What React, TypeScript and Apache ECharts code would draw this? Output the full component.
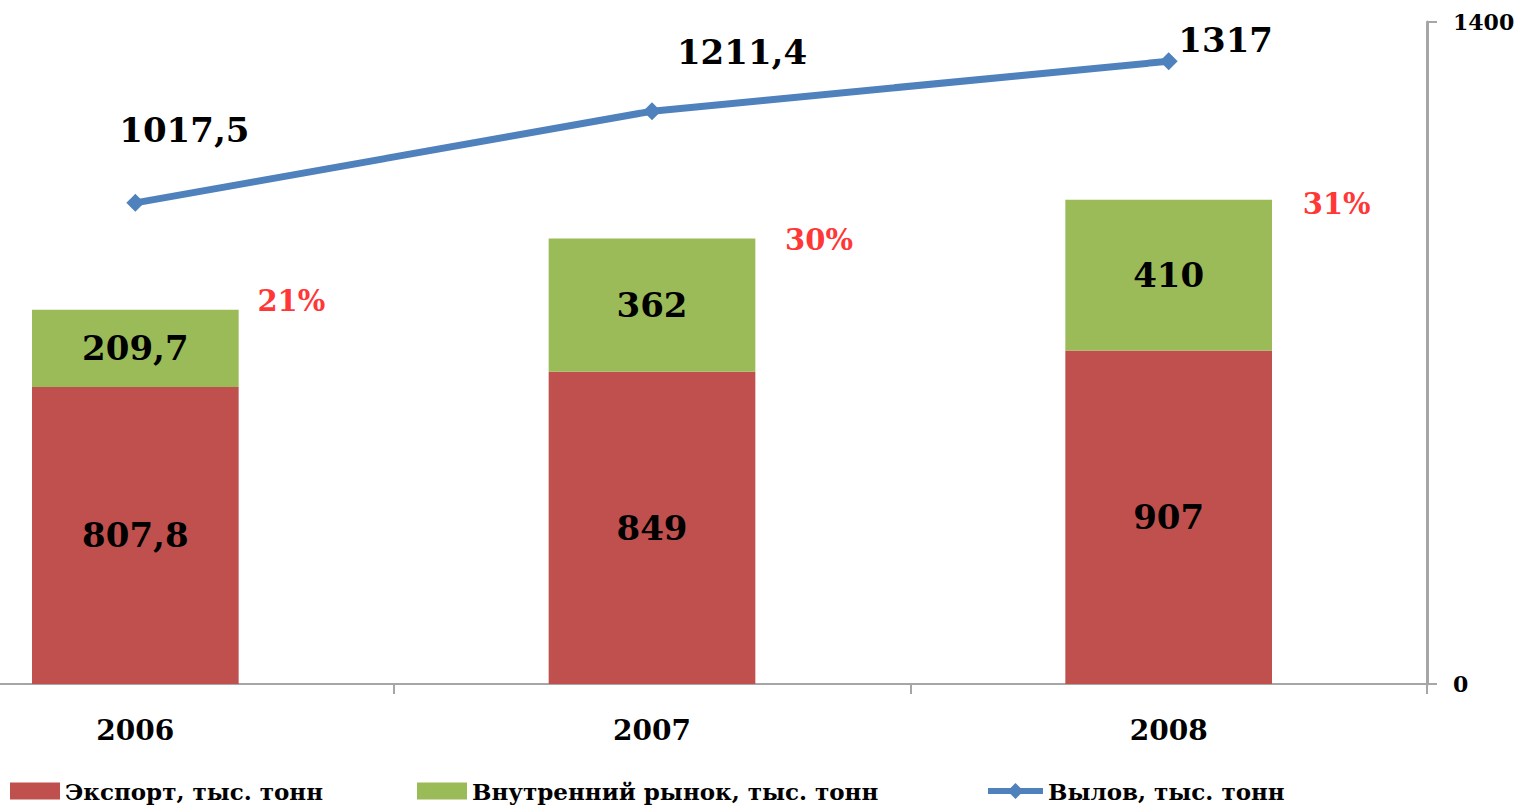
import React, { useEffect, useRef } from "react";
import * as echarts from "echarts";

const years = ["2006", "2007", "2008"];
const exportVals = [807.8, 849, 907];
const domesticVals = [209.7, 362, 410];
const catchVals = [1017.5, 1211.4, 1317];
const shareLabels = ["21%", "30%", "31%"];
const catchLabelOffsets = [[49, -73], [90, -59], [57, -21]];
const shareLabelOffsets = [[156, -9], [167, 1], [168, 4]];

const fmt = (v: number) => String(v).replace(".", ",");
const FONT = "DejaVu Serif";
const SHIFT = 123;

export default function App() {
  const ref = useRef<HTMLDivElement>(null);
  useEffect(() => {
    if (!ref.current) return;
    const chart = echarts.init(ref.current, undefined, { renderer: "svg" });
    const totals = exportVals.map((v, i) => +(v + domesticVals[i]).toFixed(1));
    const legendText = { fontFamily: FONT, fontWeight: "bold" as const, fontSize: 23, color: "#000", lineHeight: 24 };
    const legendBase = { top: 777, itemWidth: 50, itemHeight: 17, itemGap: 0, padding: 2, textStyle: legendText };
    chart.setOption({
      animation: false,
      backgroundColor: "#fff",
      grid: { left: 0, right: 97, top: 22, bottom: 125, containLabel: false },
      legend: [
        { ...legendBase, data: [{ name: "Экспорт, тыс. тонн", icon: "rect" }], left: SHIFT + 8 },
        { ...legendBase, data: [{ name: "Внутренний рынок, тыс. тонн", icon: "rect" }], left: SHIFT + 415 },
        {
          ...legendBase, data: ["Вылов, тыс. тонн"], left: SHIFT + 983, itemWidth: 55, itemHeight: 20,
          lineStyle: { width: 6 }, itemStyle: { color: "#4F81BD" },
        },
      ],
      xAxis: {
        type: "category",
        data: years,
        axisLine: { lineStyle: { color: "#A6A6A6", width: 2 } },
        axisTick: { show: true, length: 10, lineStyle: { color: "#A6A6A6", width: 2 } },
        axisLabel: { fontFamily: FONT, fontWeight: "bold", fontSize: 28, color: "#000", margin: 32 },
      },
      yAxis: [
        { type: "value", min: 0, max: 1800, show: false },
        {
          type: "value",
          position: "right",
          min: 0,
          max: 1400,
          interval: 1400,
          splitLine: { show: false },
          axisLine: { show: true, lineStyle: { color: "#A6A6A6", width: 3 } },
          axisTick: { show: true, length: 10, lineStyle: { color: "#A6A6A6", width: 2 } },
          axisLabel: {
            fontFamily: FONT, fontWeight: "bold", fontSize: 22, color: "#000", margin: 26,
            formatter: (v: number) => String(v),
          },
        },
      ],
      series: [
        {
          name: "Экспорт, тыс. тонн",
          type: "bar",
          stack: "a",
          barWidth: "40%",
          data: exportVals,
          itemStyle: { color: "#C0504D" },
          label: {
            show: true, position: "inside", formatter: (p: any) => fmt(p.value),
            fontFamily: FONT, fontWeight: "bold", fontSize: 34, color: "#000",
          },
        },
        {
          name: "Внутренний рынок, тыс. тонн",
          type: "bar",
          stack: "a",
          barWidth: "40%",
          data: domesticVals,
          itemStyle: { color: "#9BBB59" },
          label: {
            show: true, position: "inside", formatter: (p: any) => fmt(p.value),
            fontFamily: FONT, fontWeight: "bold", fontSize: 34, color: "#000",
          },
        },
        {
          name: "share",
          type: "scatter",
          symbolSize: 0,
          silent: true,
          data: totals.map((v, i) => ({
            value: v,
            label: { offset: shareLabelOffsets[i] },
          })),
          label: {
            show: true, position: "inside",
            formatter: (p: any) => shareLabels[p.dataIndex],
            fontFamily: FONT, fontWeight: "bold", fontSize: 29, color: "#FF0000",
          },
          z: 5,
        },
        {
          name: "Вылов, тыс. тонн",
          type: "line",
          yAxisIndex: 1,
          data: catchVals.map((v, i) => ({ value: v, label: { offset: catchLabelOffsets[i] } })),
          symbol: "diamond",
          symbolSize: 18,
          lineStyle: { color: "#4F81BD", width: 7 },
          itemStyle: { color: "#4F81BD" },
          label: {
            show: true, position: "inside", formatter: (p: any) => fmt(p.value),
            fontFamily: FONT, fontWeight: "bold", fontSize: 34, color: "#000",
          },
          z: 10,
        },
      ],
    });
    return () => chart.dispose();
  }, []);
  return (
    <div
      ref={ref}
      style={{ position: "fixed", left: -SHIFT, top: 0, width: 1524 + SHIFT, height: 809 }}
    />
  );
}
